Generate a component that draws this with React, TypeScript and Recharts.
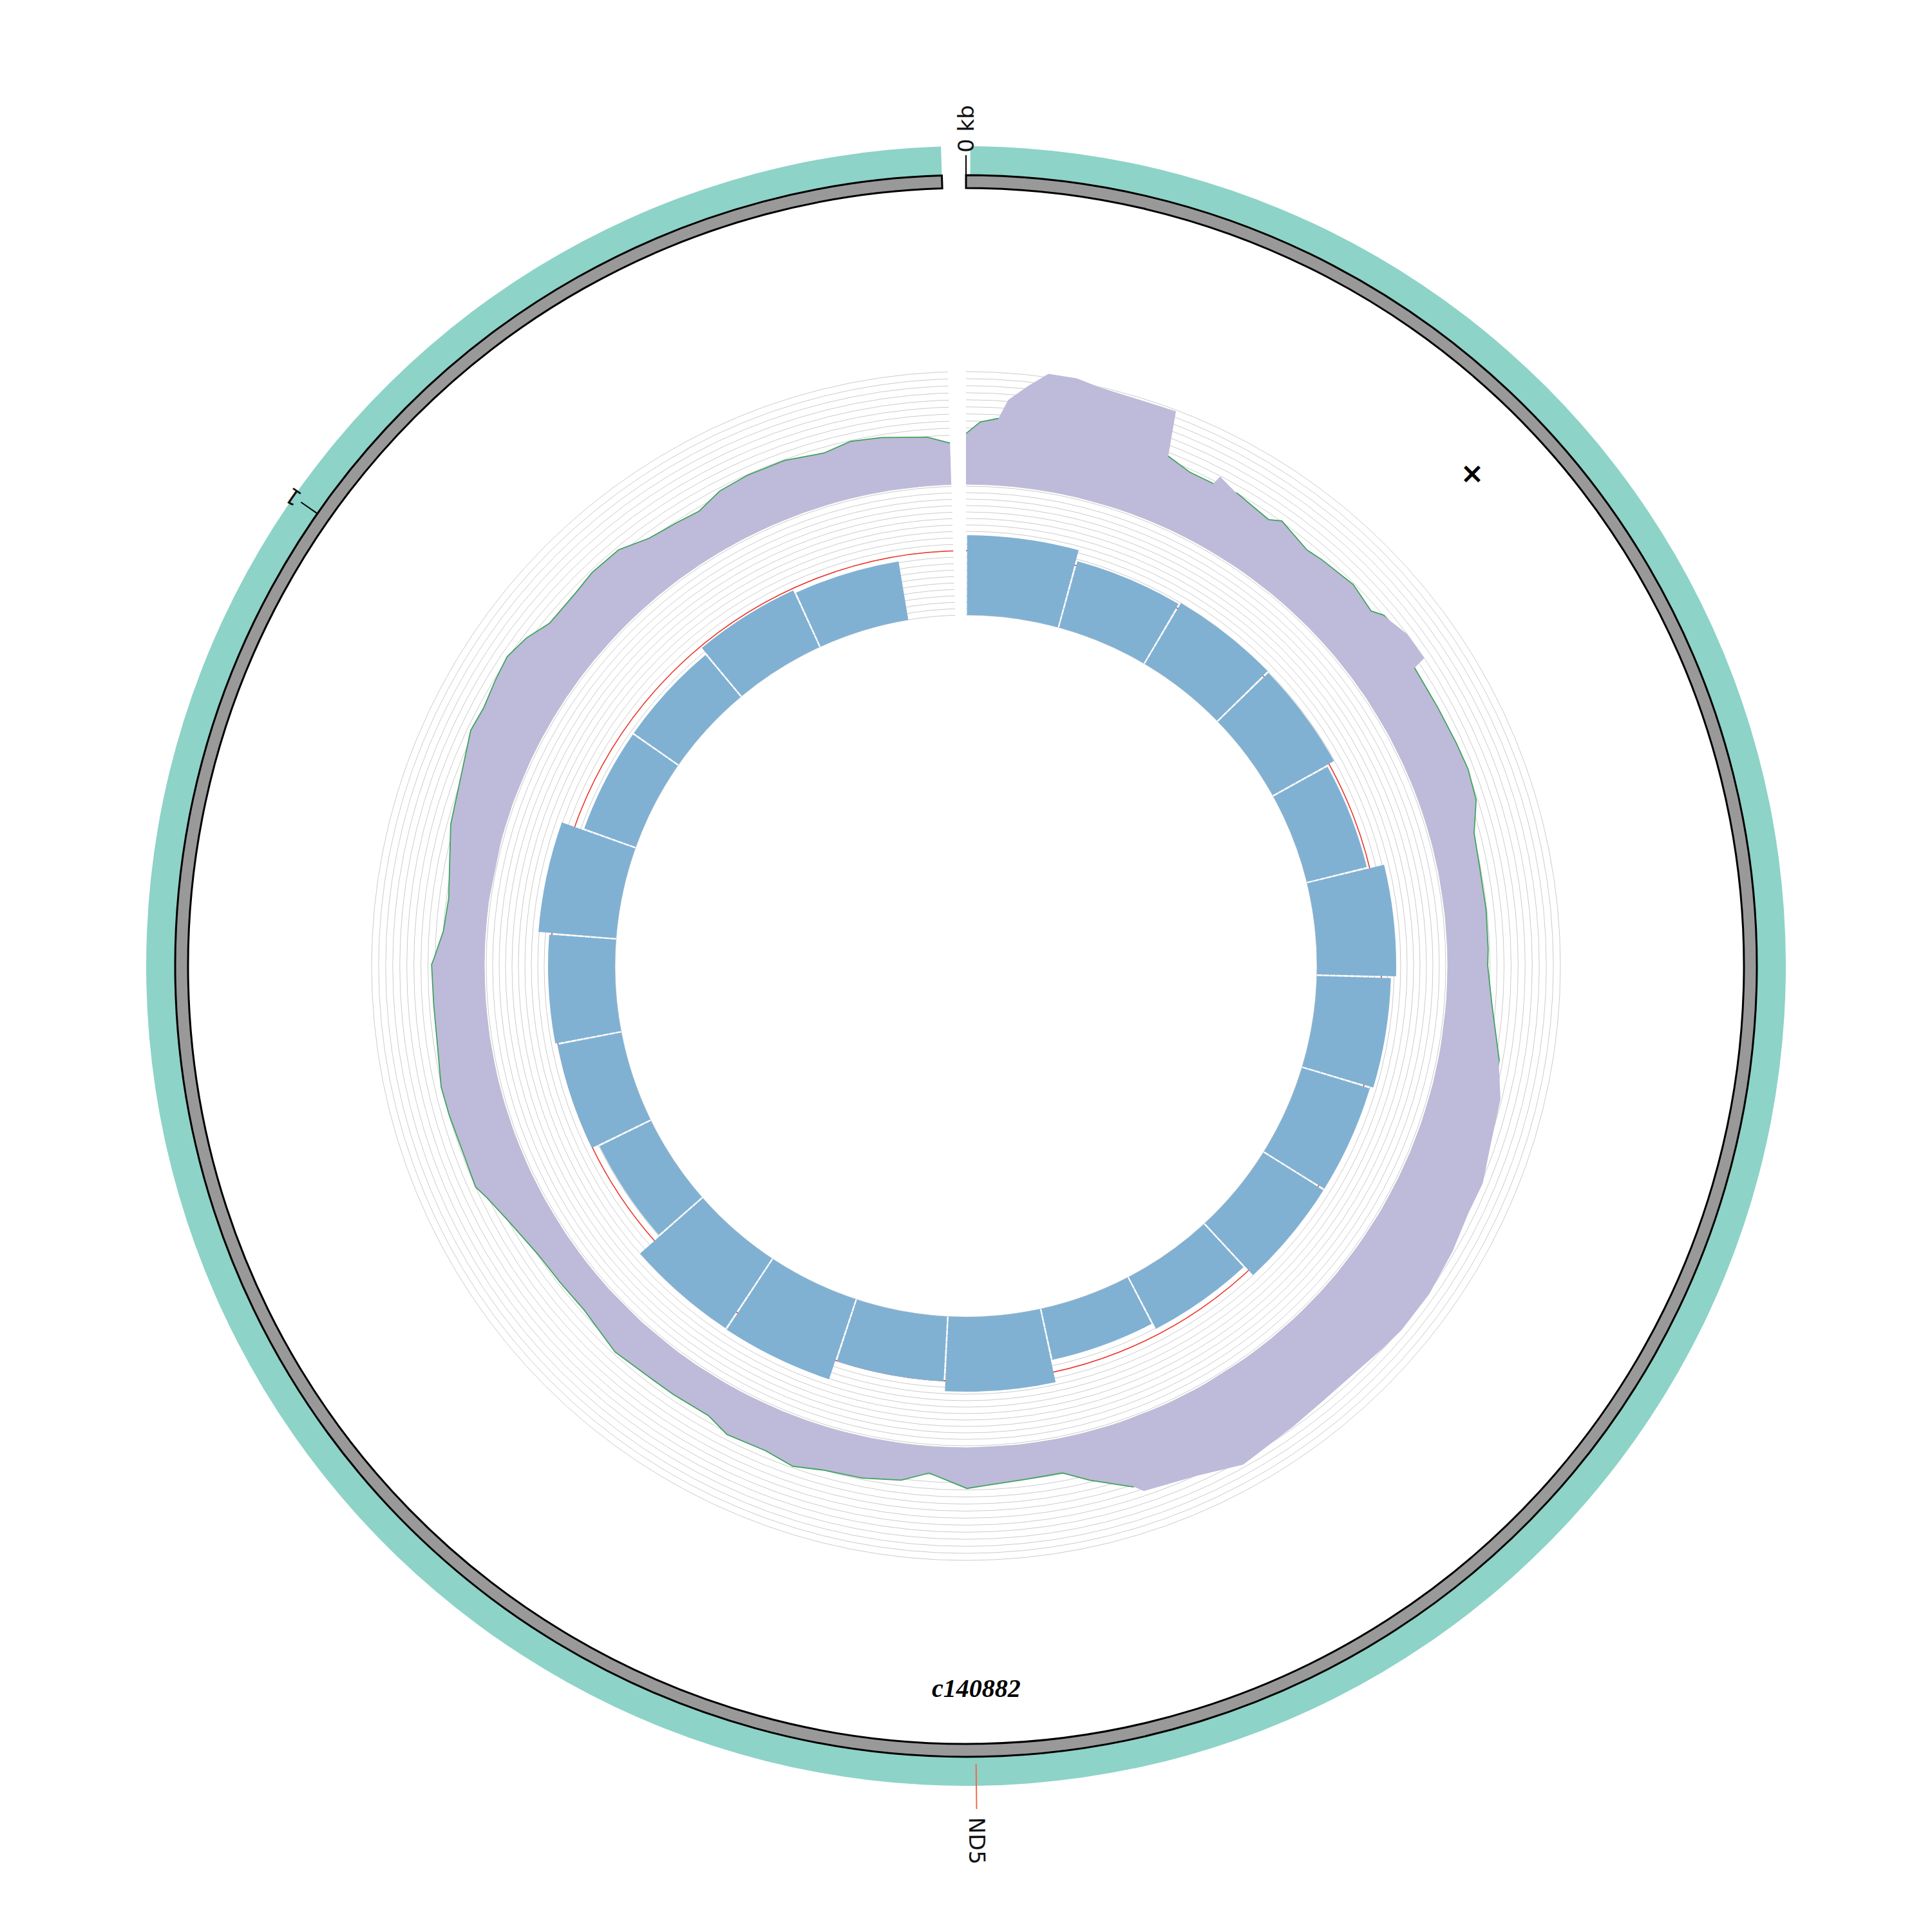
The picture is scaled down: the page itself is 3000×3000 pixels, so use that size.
import React from 'react'
import {
  Cell,
  Pie,
  PieChart,
  PolarAngleAxis,
  PolarGrid,
  PolarRadiusAxis,
  Radar,
  RadarChart,
  RadialBar,
  RadialBarChart,
} from 'recharts'

const SIZE = 3000
const CX = 1500
const CY = 1500

// one sector (the contig), clockwise from 12 o'clock, small gap at the top
const CONTIG_NAME = 'c140882'
const CONTIG_LEN = 1175
const SECTOR_SPAN = 358.25
const START_ANGLE = 90
const END_ANGLE = START_ANGLE - SECTOR_SPAN

// axis ticks on the outer ring
const KB_TICKS = [0, 1000]
const KB_TICK_LABELS = ['0 kb', '1']

// features (outer teal ring)
const FEATURE_NAMES = ['ND5']
const FEATURE_STARTS = [1]
const FEATURE_ENDS = [1175]

// depth track (purple area), positions in bp
const DEPTH_POS = [
  0, 5, 11, 14, 20, 26, 35, 43, 60, 68,
  71, 80, 89, 90, 98, 112, 116, 129, 135, 149,
  160, 164, 174, 184, 185, 201, 215, 225, 236, 247,
  259, 275, 289, 295, 309, 328, 341, 357, 370, 381,
  395, 411, 426, 435, 448, 462, 474, 495, 510, 529,
  532, 546, 555, 569, 590, 604, 614, 628, 642, 653,
  664, 679, 688, 703, 712, 729, 748, 761, 774, 790,
  801, 806, 818, 833, 843, 858, 872, 886, 888, 898,
  910, 936, 951, 969, 978, 988, 997, 1006, 1015, 1029,
  1038, 1050, 1061, 1072, 1081, 1091, 1102, 1116, 1130, 1140,
  1151, 1167, 1175,
]
const DEPTH_VAL = [
  71, 88, 94, 122, 144, 165, 165, 159, 157, 158,
  94, 85, 85, 99, 89, 81, 90, 79, 82, 87,
  80, 90, 100, 100, 80, 79, 80, 81, 77, 61,
  58, 58, 57, 56, 64, 84, 98, 103, 112, 111,
  117, 122, 122, 119, 115, 115, 118, 126, 111, 103,
  92, 66, 48, 49, 57, 37, 51, 57, 59, 67,
  60, 62, 51, 52, 52, 56, 45, 46, 48, 59,
  71, 79, 77, 79, 80, 74, 73, 74, 71, 59,
  56, 74, 80, 94, 92, 97, 101, 94, 81, 82,
  86, 85, 71, 67, 64, 75, 78, 78, 71, 78,
  75, 68, 58,
]

// coverage line (green), drawn under the purple area
const COV_POS = [
  0, 5, 11, 71, 80, 89, 98, 112, 116, 129,
  135, 149, 160, 164, 174, 185, 201, 215, 225, 236,
  247, 259, 275, 289, 295, 309, 328, 341, 357, 370,
  381, 395, 411, 426, 435, 448, 462, 474, 495, 510,
  529, 532, 546, 555, 569, 590, 604, 614, 628, 642,
  653, 664, 679, 688, 703, 712, 729, 748, 761, 774,
  790, 801, 806, 818, 833, 843, 858, 872, 886, 888,
  898, 910, 936, 951, 969, 978, 988, 997, 1006, 1015,
  1029, 1038, 1050, 1061, 1072, 1081, 1091, 1102, 1116, 1130,
  1140, 1151, 1167, 1175,
]
const COV_VAL = [
  71, 88, 94, 94, 85, 85, 89, 81, 90, 79,
  82, 87, 80, 90, 93, 80, 79, 80, 81, 77,
  61, 58, 58, 57, 56, 64, 84, 86, 88, 95,
  96, 100, 104, 106, 104, 100, 100, 102, 108, 97,
  92, 92, 66, 48, 49, 57, 37, 51, 57, 59,
  67, 60, 62, 51, 52, 52, 56, 45, 46, 48,
  59, 71, 79, 77, 79, 80, 74, 73, 74, 71,
  59, 56, 74, 80, 94, 92, 97, 101, 94, 81,
  82, 86, 85, 71, 67, 64, 75, 78, 78, 71,
  78, 75, 68, 58,
]
const DEPTH_TICKS = [0, 10, 20, 30, 40, 50, 60, 70, 80, 90, 100, 110, 120, 130, 140, 150, 160]

// binned track (blue bars), 50 bp bins
const BIN_SIZE = 50
const BIN_VALUES = [
  62, 53.5, 55, 54.5, 48, 61.5, 57.5, 55, 55, 45.5, 40.5, 58,
  50.5, 65.5, 65, 44.5, 50.5, 52, 60.5, 42.5, 42.5, 48.5, 46,
]
const BIN_TICKS = [0, 5, 10, 15, 20, 25, 30, 35, 40, 45, 50, 55, 60, 65, 70, 75, 80, 85, 90, 95, 100]
const BIN_MEAN = [50]

const TEAL = '#8dd3c7'
const GREY = '#999999'
const PURPLE = '#bebada'
const BLUE = '#80b1d3'
const GREEN = '#3ea35c'
const RED = '#ee3124'
const SALMON = '#ef6a4f'
const GRID = '#cccccc'

const depthData = DEPTH_POS.map((pos, i) => ({ pos, depth: [0, DEPTH_VAL[i]] }))
const covData = COV_POS.map((pos, i) => ({ pos, cov: COV_VAL[i] }))
const binData = BIN_VALUES.map((value, i) => ({ bin: i * BIN_SIZE, value }))

// angular width of one bin; recharts puts category bars one band ahead on the
// angle axis, so the bar chart's range is turned back by one band
const BIN_DEG = (SECTOR_SPAN * BIN_SIZE) / CONTIG_LEN
const binStart = START_ANGLE - BIN_DEG
const binEnd = START_ANGLE - BIN_DEG * BIN_VALUES.length - BIN_DEG

// slices along the contig: gaps transparent, features teal
const featureSlices: { name: string; value: number; fill: string }[] = []
let cursor = 0
FEATURE_NAMES.forEach((name, i) => {
  featureSlices.push({ name: 'gap' + i, value: FEATURE_STARTS[i] - cursor, fill: 'transparent' })
  featureSlices.push({ name, value: FEATURE_ENDS[i] - FEATURE_STARTS[i], fill: TEAL })
  cursor = FEATURE_ENDS[i]
})
featureSlices.push({ name: 'tail', value: CONTIG_LEN - cursor, fill: 'transparent' })

const featureMid = FEATURE_NAMES.map((_, i) => (FEATURE_STARTS[i] + FEATURE_ENDS[i]) / 2)

const layer: React.CSSProperties = { position: 'absolute', left: 0, top: 0 }

const polar = {
  width: SIZE,
  height: SIZE,
  cx: CX,
  cy: CY,
  startAngle: START_ANGLE,
  endAngle: END_ANGLE,
  margin: { top: 0, right: 0, bottom: 0, left: 0 },
}

const makeTick = (values: number[], labels: string[], gap: number) => (props: any) => {
  const { x, y, payload } = props
  const i = values.indexOf(payload.value)
  const rot = -payload.coordinate
  return (
    <text
      x={x}
      y={y}
      dx={gap}
      transform={`rotate(${rot}, ${x}, ${y})`}
      textAnchor="start"
      dominantBaseline="central"
      fontFamily="DejaVu Sans"
      fontSize={34}
      fill="#111"
    >
      {labels[i] ?? ''}
    </text>
  )
}

// concentric grid circles for a track
function TrackGrid({
  inner,
  outer,
  domain,
  ticks,
  stroke,
  strokeWidth,
}: {
  inner: number
  outer: number
  domain: [number, number]
  ticks: number[]
  stroke: string
  strokeWidth: number
}) {
  return (
    <div style={layer}>
      <RadarChart {...polar} innerRadius={inner} outerRadius={outer} data={binData}>
        <PolarAngleAxis type="number" dataKey="bin" domain={[0, CONTIG_LEN]} tick={false} tickLine={false} axisLine={false} />
        <PolarRadiusAxis type="number" domain={domain} ticks={ticks} allowDataOverflow tick={false} axisLine={false} />
        <PolarGrid gridType="circle" radialLines={false} stroke={stroke} strokeWidth={strokeWidth} />
        <Radar dataKey="value" stroke="none" fill="none" dot={false} isAnimationActive={false} />
      </RadarChart>
    </div>
  )
}

export default function App() {
  return (
    <div style={{ position: 'absolute', left: 0, top: 0, width: SIZE, height: SIZE, background: '#fff' }}>
      {/* feature ring */}
      <div style={layer}>
        <PieChart {...polar}>
          <Pie
            data={featureSlices}
            dataKey="value"
            cx={CX}
            cy={CY}
            startAngle={START_ANGLE}
            endAngle={END_ANGLE}
            innerRadius={1228}
            outerRadius={1273}
            stroke="none"
            isAnimationActive={false}
          >
            {featureSlices.map((s) => (
              <Cell key={s.name} fill={s.fill} />
            ))}
          </Pie>
        </PieChart>
      </div>

      {/* contig bar */}
      <div style={layer}>
        <PieChart {...polar}>
          <Pie
            data={[{ name: CONTIG_NAME, value: CONTIG_LEN }]}
            dataKey="value"
            cx={CX}
            cy={CY}
            startAngle={START_ANGLE}
            endAngle={END_ANGLE}
            innerRadius={1208}
            outerRadius={1228}
            fill={GREY}
            stroke="#000"
            strokeWidth={3}
            isAnimationActive={false}
          />
        </PieChart>
      </div>

      {/* kb ticks */}
      <div style={layer}>
        <RadarChart {...polar} outerRadius={1229} data={KB_TICKS.map((pos) => ({ pos }))}>
          <PolarAngleAxis
            type="number"
            dataKey="pos"
            domain={[0, CONTIG_LEN]}
            ticks={KB_TICKS}
            tickSize={30}
            axisLine={false}
            tickLine={{ stroke: '#000', strokeWidth: 2 }}
            tick={makeTick(KB_TICKS, KB_TICK_LABELS, 4)}
          />
        </RadarChart>
      </div>

      {/* feature label */}
      <div style={layer}>
        <RadarChart {...polar} outerRadius={1239} data={featureMid.map((pos) => ({ pos }))}>
          <PolarAngleAxis
            type="number"
            dataKey="pos"
            domain={[0, CONTIG_LEN]}
            ticks={featureMid}
            tickSize={70}
            axisLine={false}
            tickLine={{ stroke: SALMON, strokeWidth: 2 }}
            tick={makeTick(featureMid, FEATURE_NAMES, 13)}
          />
        </RadarChart>
      </div>

      {/* depth grid + green line */}
      <div style={layer}>
        <RadarChart {...polar} innerRadius={748} outerRadius={923} data={covData}>
          <PolarAngleAxis type="number" dataKey="pos" domain={[0, CONTIG_LEN]} tick={false} tickLine={false} axisLine={false} />
          <PolarRadiusAxis type="number" domain={[0, 160]} ticks={DEPTH_TICKS} allowDataOverflow tick={false} axisLine={false} />
          <PolarGrid gridType="circle" radialLines={false} stroke={GRID} strokeWidth={1} />
          <Radar dataKey="cov" stroke={GREEN} strokeWidth={3.5} fill="none" dot={false} isAnimationActive={false} />
        </RadarChart>
      </div>

      {/* depth area */}
      <div style={layer}>
        <RadarChart {...polar} innerRadius={748} outerRadius={923} data={depthData}>
          <PolarAngleAxis type="number" dataKey="pos" domain={[0, CONTIG_LEN]} tick={false} tickLine={false} axisLine={false} />
          <PolarRadiusAxis type="number" domain={[0, 160]} allowDataOverflow tick={false} axisLine={false} />
          <Radar dataKey="depth" stroke="none" fill={PURPLE} fillOpacity={1} dot={false} isAnimationActive={false} />
        </RadarChart>
      </div>

      {/* bin track grid and mean line */}
      <TrackGrid inner={545} outer={745} domain={[0, 100]} ticks={BIN_TICKS} stroke={GRID} strokeWidth={1} />
      <TrackGrid inner={545} outer={745} domain={[0, 100]} ticks={BIN_MEAN} stroke={RED} strokeWidth={1.5} />

      {/* bars */}
      <div style={layer}>
        <RadialBarChart
          {...polar}
          startAngle={binStart}
          endAngle={binEnd}
          innerRadius={545}
          outerRadius={745}
          data={binData}
          layout="centric"
          barCategoryGap="0.6%"
          barGap={0}
        >
          <PolarAngleAxis type="category" dataKey="bin" tick={false} tickLine={false} axisLine={false} />
          <PolarRadiusAxis type="number" domain={[0, 100]} allowDataOverflow tick={false} axisLine={false} />
          <RadialBar dataKey="value" fill={BLUE} stroke="none" isAnimationActive={false} />
        </RadialBarChart>
      </div>

      {/* sector gap */}
      <div style={layer}>
        <PieChart {...polar}>
          <Pie
            data={[{ name: 'gap', value: 1 }]}
            dataKey="value"
            cx={CX}
            cy={CY}
            startAngle={END_ANGLE}
            endAngle={START_ANGLE - 360}
            innerRadius={535}
            outerRadius={945}
            fill="#fff"
            stroke="none"
            isAnimationActive={false}
          />
        </PieChart>
      </div>

      <svg width={SIZE} height={SIZE} style={{ ...layer, pointerEvents: 'none' }}>
        <text
          x={1516}
          y={2635}
          textAnchor="middle"
          fontFamily="Liberation Serif"
          fontWeight="bold"
          fontStyle="italic"
          fontSize={40}
        >
          {CONTIG_NAME}
        </text>
        <text x={2286} y={750} textAnchor="middle" fontFamily="DejaVu Sans" fontWeight="bold" fontSize={44}>
          ×
        </text>
      </svg>
    </div>
  )
}
